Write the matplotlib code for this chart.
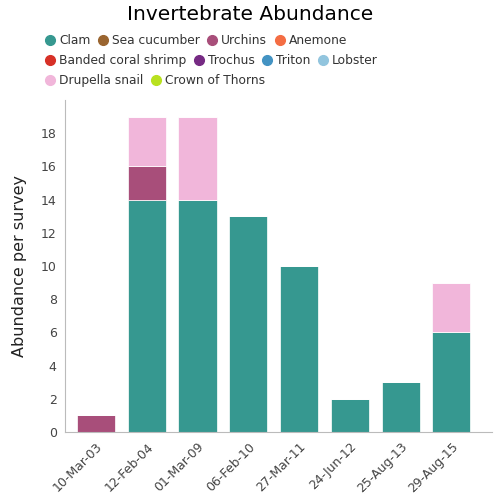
import matplotlib.pyplot as plt
from matplotlib.lines import Line2D
import numpy as np

dates = ['10-Mar-03', '12-Feb-04', '01-Mar-09', '06-Feb-10', '27-Mar-11', '24-Jun-12', '25-Aug-13', '29-Aug-15']
species = ['Clam', 'Sea cucumber', 'Urchins', 'Anemone', 'Banded coral shrimp', 'Trochus',
           'Triton', 'Lobster', 'Drupella snail', 'Crown of Thorns']
colours = ['#369890', '#9a6530', '#a84e7a', '#f46d43', '#d73027', '#762a83',
           '#4393c3', '#92c5de', '#f1b6da', '#b8e11f']
clam = [0, 14, 14, 13, 10, 2, 3, 6]
urchins = [1, 2, 0, 0, 0, 0, 0, 0]
drupella = [0, 3, 5, 0, 0, 0, 0, 3]
zeros = [0] * len(dates)
values = [clam, zeros, urchins, zeros, zeros, zeros, zeros, zeros, drupella, zeros]

fig = plt.figure(figsize=(5, 5), dpi=100)
ax = fig.add_axes([0.13, 0.136, 0.854, 0.664])

x = np.arange(len(dates))
bottom = np.zeros(len(dates))
for name, col, vals in zip(species, colours, values):
    v = np.array(vals, dtype=float)
    ax.bar(x, v, 0.75, bottom=bottom, color=col, edgecolor='white', linewidth=0.5)
    bottom += v

ax.set_xlim(-0.61, 7.8)
ax.set_ylim(0, 20)
ax.set_yticks(range(0, 20, 2))
ax.set_xticks(x)
ax.set_xticklabels(dates, rotation=45, ha='right', rotation_mode='anchor')
ax.tick_params(length=0, colors='#444444', labelsize=9, pad=6)
for s in ['top', 'right']:
    ax.spines[s].set_visible(False)
for s in ['left', 'bottom']:
    ax.spines[s].set_color('#bbbbbb')
ax.set_ylabel('Abundance per survey', fontsize=11.5, color='#222222', labelpad=10)

fig.text(0.5, 0.972, 'Invertebrate Abundance', ha='center', va='center', fontsize=14.5, color='black')

rows = [species[0:4], species[4:8], species[8:10]]
ys = [0.918, 0.879, 0.839]
idx = 0
for row, y in zip(rows, ys):
    handles = []
    for name in row:
        handles.append(Line2D([], [], marker='o', linestyle='', markersize=7,
                              markerfacecolor=colours[idx], markeredgecolor=colours[idx]))
        idx += 1
    leg = fig.legend(handles, row, loc='center left', bbox_to_anchor=(0.082, y), ncol=len(row),
                     frameon=False, handletextpad=0.0, columnspacing=0.25, handlelength=1.5,
                     borderpad=0, borderaxespad=0, fontsize=8.8)
    for t in leg.get_texts():
        t.set_color('#333333')

fig.savefig('out.png', dpi=100)
